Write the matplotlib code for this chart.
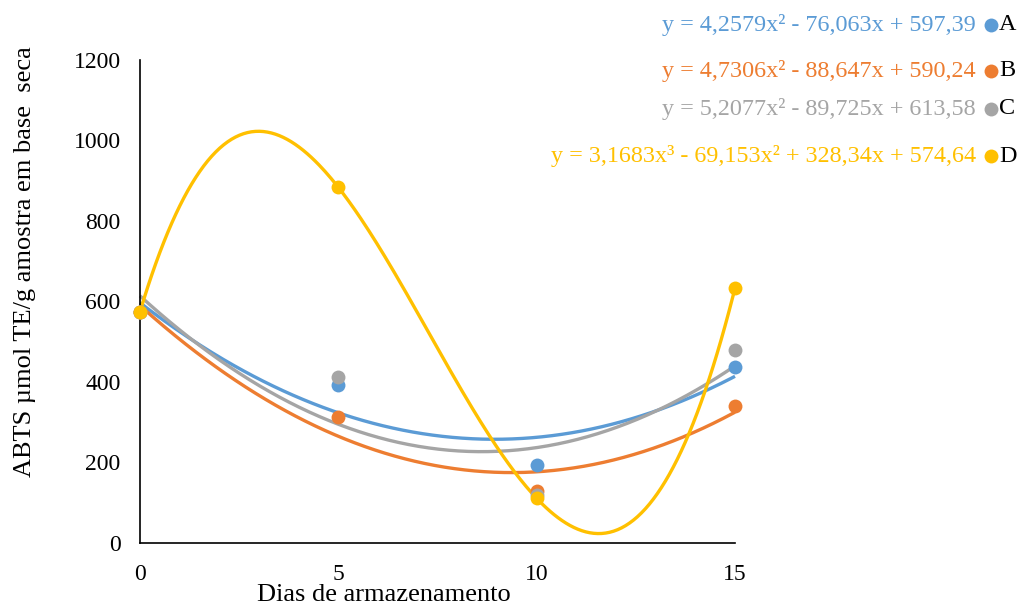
import matplotlib
matplotlib.use("Agg")
import matplotlib.pyplot as plt
import numpy as np

plt.rcParams['font.family'] = ['Liberation Serif', 'DejaVu Serif']

days = [0, 5, 10, 15]
serie_A = [574, 392, 194, 437]
serie_B = [574, 313, 129, 341]
serie_C = [575, 412, 120, 479]
serie_D = [574.6, 883.6, 111.0, 633.3]
names = ['A', 'B', 'C', 'D']
degrees = [2, 2, 2, 3]
equations = [
    "y = 4,2579x² - 76,063x + 597,39",
    "y = 4,7306x² - 88,647x + 590,24",
    "y = 5,2077x² - 89,725x + 613,58",
    "y = 3,1683x³ - 69,153x² + 328,34x + 574,64",
]
colors = ['#5B9BD5', '#ED7D31', '#A5A5A5', '#FFC000']
yticks = [0, 200, 400, 600, 800, 1000, 1200]
xticks = [0, 5, 10, 15]

fig = plt.figure(figsize=(10.21, 6.12), dpi=100)
ax = fig.add_axes([140/1021, 1-543/612, (735-140)/1021, (543-60)/612])

series = [serie_A, serie_B, serie_C, serie_D]
xs = np.linspace(0, 15, 300)
for s, c, d in zip(series, colors, degrees):
    coef = np.polyfit(days, s, d)
    ax.plot(xs, np.polyval(coef, xs), color=c, lw=2.4, zorder=2, solid_capstyle='butt')
for s, c in zip(series, colors):
    ax.plot(days, s, 'o', color=c, ms=10, zorder=3, mec='none')

ax.set_xlim(0, 15)
ax.set_ylim(0, 1200)
ax.set_xticks(xticks)
ax.set_yticks(yticks)
ax.tick_params(axis='y', length=0, labelsize=17, pad=14)
ax.tick_params(axis='x', length=0, labelsize=17, pad=15)
for sp in ['top', 'right']:
    ax.spines[sp].set_visible(False)
for sp in ['left', 'bottom']:
    ax.spines[sp].set_linewidth(1.2)
for ln in ax.lines:
    ln.set_clip_on(False)

fig.text(384/1021, 1-601/612, "Dias de armazenamento", ha='center', va='baseline', fontsize=19)
fig.text(25/1021, 1-262/612, "ABTS µmol TE/g amostra em base  seca", ha='center', va='center',
         rotation=90, fontsize=19)

rows_y = [25, 71, 109, 156]
for eq, c, n, yy in zip(equations, colors, names, rows_y):
    fig.text(976/1021, 1-yy/612, eq, color=c, ha='right', va='center', fontsize=17.4)
    fig.lines.append(plt.Line2D([991/1021], [1-yy/612], marker='o', color=c, ms=10, mec='none',
                                transform=fig.transFigure))
    fig.text(999/1021, 1-yy/612, n, color='black', ha='left', va='center', fontsize=17.4)

fig.savefig("out.png", dpi=100)
